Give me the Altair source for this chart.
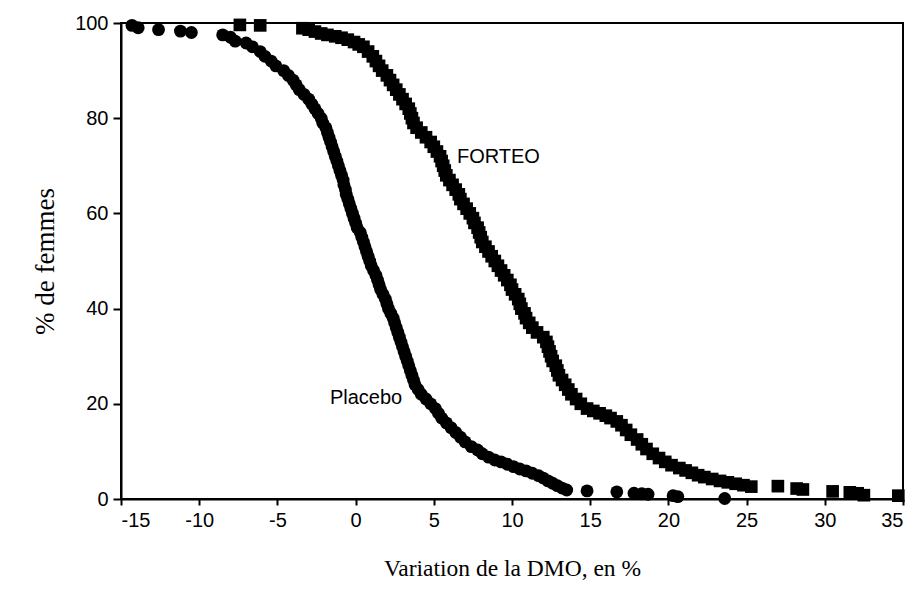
import altair as alt
import pandas as pd

# Placebo (circles): % change in BMD (x) vs % of women (y)
placebo_x = [-14.3, -13.9, -12.6, -11.2, -10.5,
             -8.5, -8.0, -7.7, -7.0, -6.6, -6.1, -5.8, -5.4, -5.1, -4.6, -4.3, -4.0, -3.8, -3.6,
             -3.3, -3.0, -2.8, -2.6, -2.4, -2.2, -2.1, -1.9, -1.8, -1.7, -1.6, -1.5, -1.4, -1.3,
             -1.2, -1.1, -1.0, -0.9, -0.8, -0.75, -0.65, -0.6, -0.5, -0.4, -0.3, -0.2, -0.1, 0.0,
             0.1, 0.3, 0.4, 0.5, 0.6, 0.7, 0.8, 0.9, 1.0, 1.15, 1.3, 1.4, 1.5, 1.6, 1.75, 1.9,
             2.0, 2.1, 2.25, 2.4, 2.5, 2.6, 2.7, 2.8, 2.9, 3.0, 3.1, 3.2, 3.3, 3.4, 3.5, 3.6, 3.7,
             3.8, 4.0, 4.2, 4.5, 4.8, 5.1, 5.3, 5.5, 5.8, 6.1, 6.4, 6.7, 7.0, 7.4, 7.8, 8.1, 8.5,
             8.9, 9.3, 9.7, 10.1, 10.5, 10.9, 11.3, 11.7, 12.0, 12.3, 12.6, 12.9, 13.2, 13.5,
             14.8, 16.7, 17.8, 18.3, 18.7, 20.3, 20.6, 23.6]
placebo_y = [99.5, 99.0, 98.6, 98.3, 98.0,
             97.5, 97.0, 96.2, 95.8, 95.0, 94.0, 93.0, 92.0, 91.0, 90.0, 89.0, 88.0, 87.0, 86.0,
             85.0, 84.0, 83.0, 82.0, 81.0, 80.0, 79.0, 78.0, 77.0, 76.0, 75.0, 74.0, 73.0, 72.0,
             71.0, 70.0, 69.0, 68.0, 67.0, 66.0, 65.0, 64.0, 63.0, 62.0, 61.0, 60.0, 59.0, 58.0,
             57.0, 56.0, 55.0, 54.0, 53.0, 52.0, 51.0, 50.0, 49.0, 48.0, 47.0, 46.0, 45.0, 44.0, 43.0, 42.0,
             41.0, 40.0, 39.0, 38.0, 37.0, 36.0, 35.0, 34.0, 33.0, 32.0, 31.0, 30.0, 29.0, 28.0, 27.0, 26.0, 25.0,
             24.0, 23.0, 22.0, 21.0, 20.0, 19.0, 18.0, 17.0, 16.0, 15.0, 14.0, 13.0, 12.0, 11.0, 10.3, 9.5, 8.8,
             8.2, 7.8, 7.3, 6.8, 6.3, 5.9, 5.4, 4.9, 4.4, 3.8, 3.3, 2.8, 2.3, 1.9,
             1.7, 1.5, 1.2, 1.1, 1.0, 0.7, 0.5, 0.1]

# FORTEO (squares)
forteo_x = [-7.4, -6.1,
            -3.4, -3.0, -2.6, -2.2, -1.8, -1.3, -0.9, -0.5, -0.1, 0.2, 0.5, 0.8, 1.1, 1.3, 1.5, 1.7,
            2.0, 2.2, 2.4, 2.6, 2.8, 3.0, 3.2, 3.4, 3.5, 3.6, 3.7, 3.9, 4.2, 4.5, 4.8, 5.0, 5.2, 5.4,
            5.5, 5.6, 5.7, 5.8, 6.0, 6.2, 6.4, 6.6, 6.7, 6.9, 7.1, 7.3, 7.5, 7.6, 7.8, 7.9, 8.0, 8.1,
            8.3, 8.5, 8.7, 8.9, 9.1, 9.3, 9.5, 9.7, 9.9, 10.0, 10.2, 10.4, 10.5, 10.6, 10.8, 10.9,
            11.1, 11.3, 11.6, 12.0, 12.2, 12.3, 12.4, 12.5, 12.6, 12.8, 12.9, 13.0, 13.2, 13.4, 13.6,
            13.8, 14.1, 14.4, 14.8, 15.2, 15.6, 16.0, 16.3, 16.7, 17.0, 17.3, 17.6, 18.0, 18.3, 18.6,
            19.0, 19.4, 19.8, 20.2, 20.7, 21.1, 21.5, 21.9, 22.3, 22.8, 23.3, 23.8, 24.3, 24.8, 25.3,
            27.0, 28.2, 28.6, 30.5, 31.6, 32.1, 32.5, 34.7]
forteo_y = [99.6, 99.5,
            98.9, 98.6, 98.2, 97.8, 97.5, 97.2, 96.9, 96.5, 96.0, 95.5, 95.0, 94.0, 93.0, 92.0, 91.0, 90.0,
            89.0, 88.0, 87.0, 86.0, 85.0, 84.0, 83.0, 82.0, 81.0, 80.0, 79.0, 78.0, 77.0, 76.0, 75.0, 74.0, 73.0, 72.0,
            71.0, 70.0, 69.0, 68.0, 67.0, 66.0, 65.0, 64.0, 63.0, 62.0, 61.0, 60.0, 59.0, 58.0, 57.0, 56.0, 55.0, 54.0,
            53.0, 52.0, 51.0, 50.0, 49.0, 48.0, 47.0, 46.0, 45.0, 44.0, 43.0, 42.0, 41.0, 40.0, 39.0, 38.0,
            37.0, 36.0, 35.0, 34.0, 33.0, 32.0, 31.0, 30.0, 29.0, 28.0, 27.0, 26.0, 25.0, 24.0, 23.0,
            22.0, 21.0, 20.0, 19.0, 18.5, 18.0, 17.5, 17.0, 16.3, 15.5, 14.5, 13.5, 12.5, 11.5, 10.5,
            9.5, 8.6, 7.8, 7.1, 6.5, 6.0, 5.5, 5.0, 4.6, 4.2, 3.8, 3.5, 3.2, 2.9, 2.6,
            2.7, 2.2, 2.0, 1.6, 1.4, 1.2, 0.8, 0.7]

label_text = ["Placebo", "FORTEO"]
label_x = [-1.64, 6.48]
label_y = [21.2, 71.8]

x_ticks = [-15, -10, -5, 0, 5, 10, 15, 20, 25, 30, 35]
y_ticks = [0, 20, 40, 60, 80, 100]

placebo = pd.DataFrame({"x": placebo_x, "y": placebo_y})
forteo = pd.DataFrame({"x": forteo_x, "y": forteo_y})
labels = pd.DataFrame({"t": label_text, "x": label_x, "y": label_y})

W, H = 782, 476

xscale = alt.Scale(domain=[-15, 35], nice=False, zero=False)
yscale = alt.Scale(domain=[0, 100], nice=False)

xaxis = alt.Axis(values=x_ticks, title="Variation de la DMO, en %", grid=False,
                 labelExpr="'' + datum.value",
                 domainColor="black", domainWidth=2, tickColor="black", tickWidth=2, tickSize=6,
                 labelFont="Liberation Sans", labelFontSize=20, labelColor="black", labelPadding=5,
                 titleFont="Liberation Serif", titleFontSize=23.5, titleFontWeight="normal",
                 titleColor="black", titleX=W / 2, titleY=69, titleBaseline="middle",
                 titleAlign="center")
yaxis = alt.Axis(values=y_ticks, title="% de femmes", grid=False,
                 domainColor="black", domainWidth=2, tickColor="black", tickWidth=2, tickSize=8,
                 labelFont="Liberation Sans", labelFontSize=20, labelColor="black", labelPadding=5,
                 titleFont="Liberation Serif", titleFontSize=27, titleFontWeight="normal",
                 titleColor="black", titleX=-76, titleY=H / 2, titleAngle=270,
                 titleBaseline="middle", titleAlign="center")

pl = alt.Chart(placebo).mark_circle(color="black", opacity=1, size=165).encode(
    x=alt.X("x:Q", scale=xscale, axis=xaxis),
    y=alt.Y("y:Q", scale=yscale, axis=yaxis),
)
fo = alt.Chart(forteo).mark_square(color="black", opacity=1, size=160).encode(
    x=alt.X("x:Q", scale=xscale),
    y=alt.Y("y:Q", scale=yscale),
)
tx = alt.Chart(labels).mark_text(align="left", baseline="middle", font="Liberation Sans",
                                 fontSize=20, color="black").encode(
    x=alt.X("x:Q", scale=xscale),
    y=alt.Y("y:Q", scale=yscale),
    text="t:N",
)

chart = alt.layer(pl, fo, tx).properties(
    width=W, height=H,
    autosize=alt.AutoSizeParams(type="none"),
    padding={"left": 121, "top": 23, "right": 15, "bottom": 96},
    background="white",
).configure_view(stroke="black", strokeWidth=2)

chart.save("out.html", embed_options={"renderer": "svg", "actions": False})
